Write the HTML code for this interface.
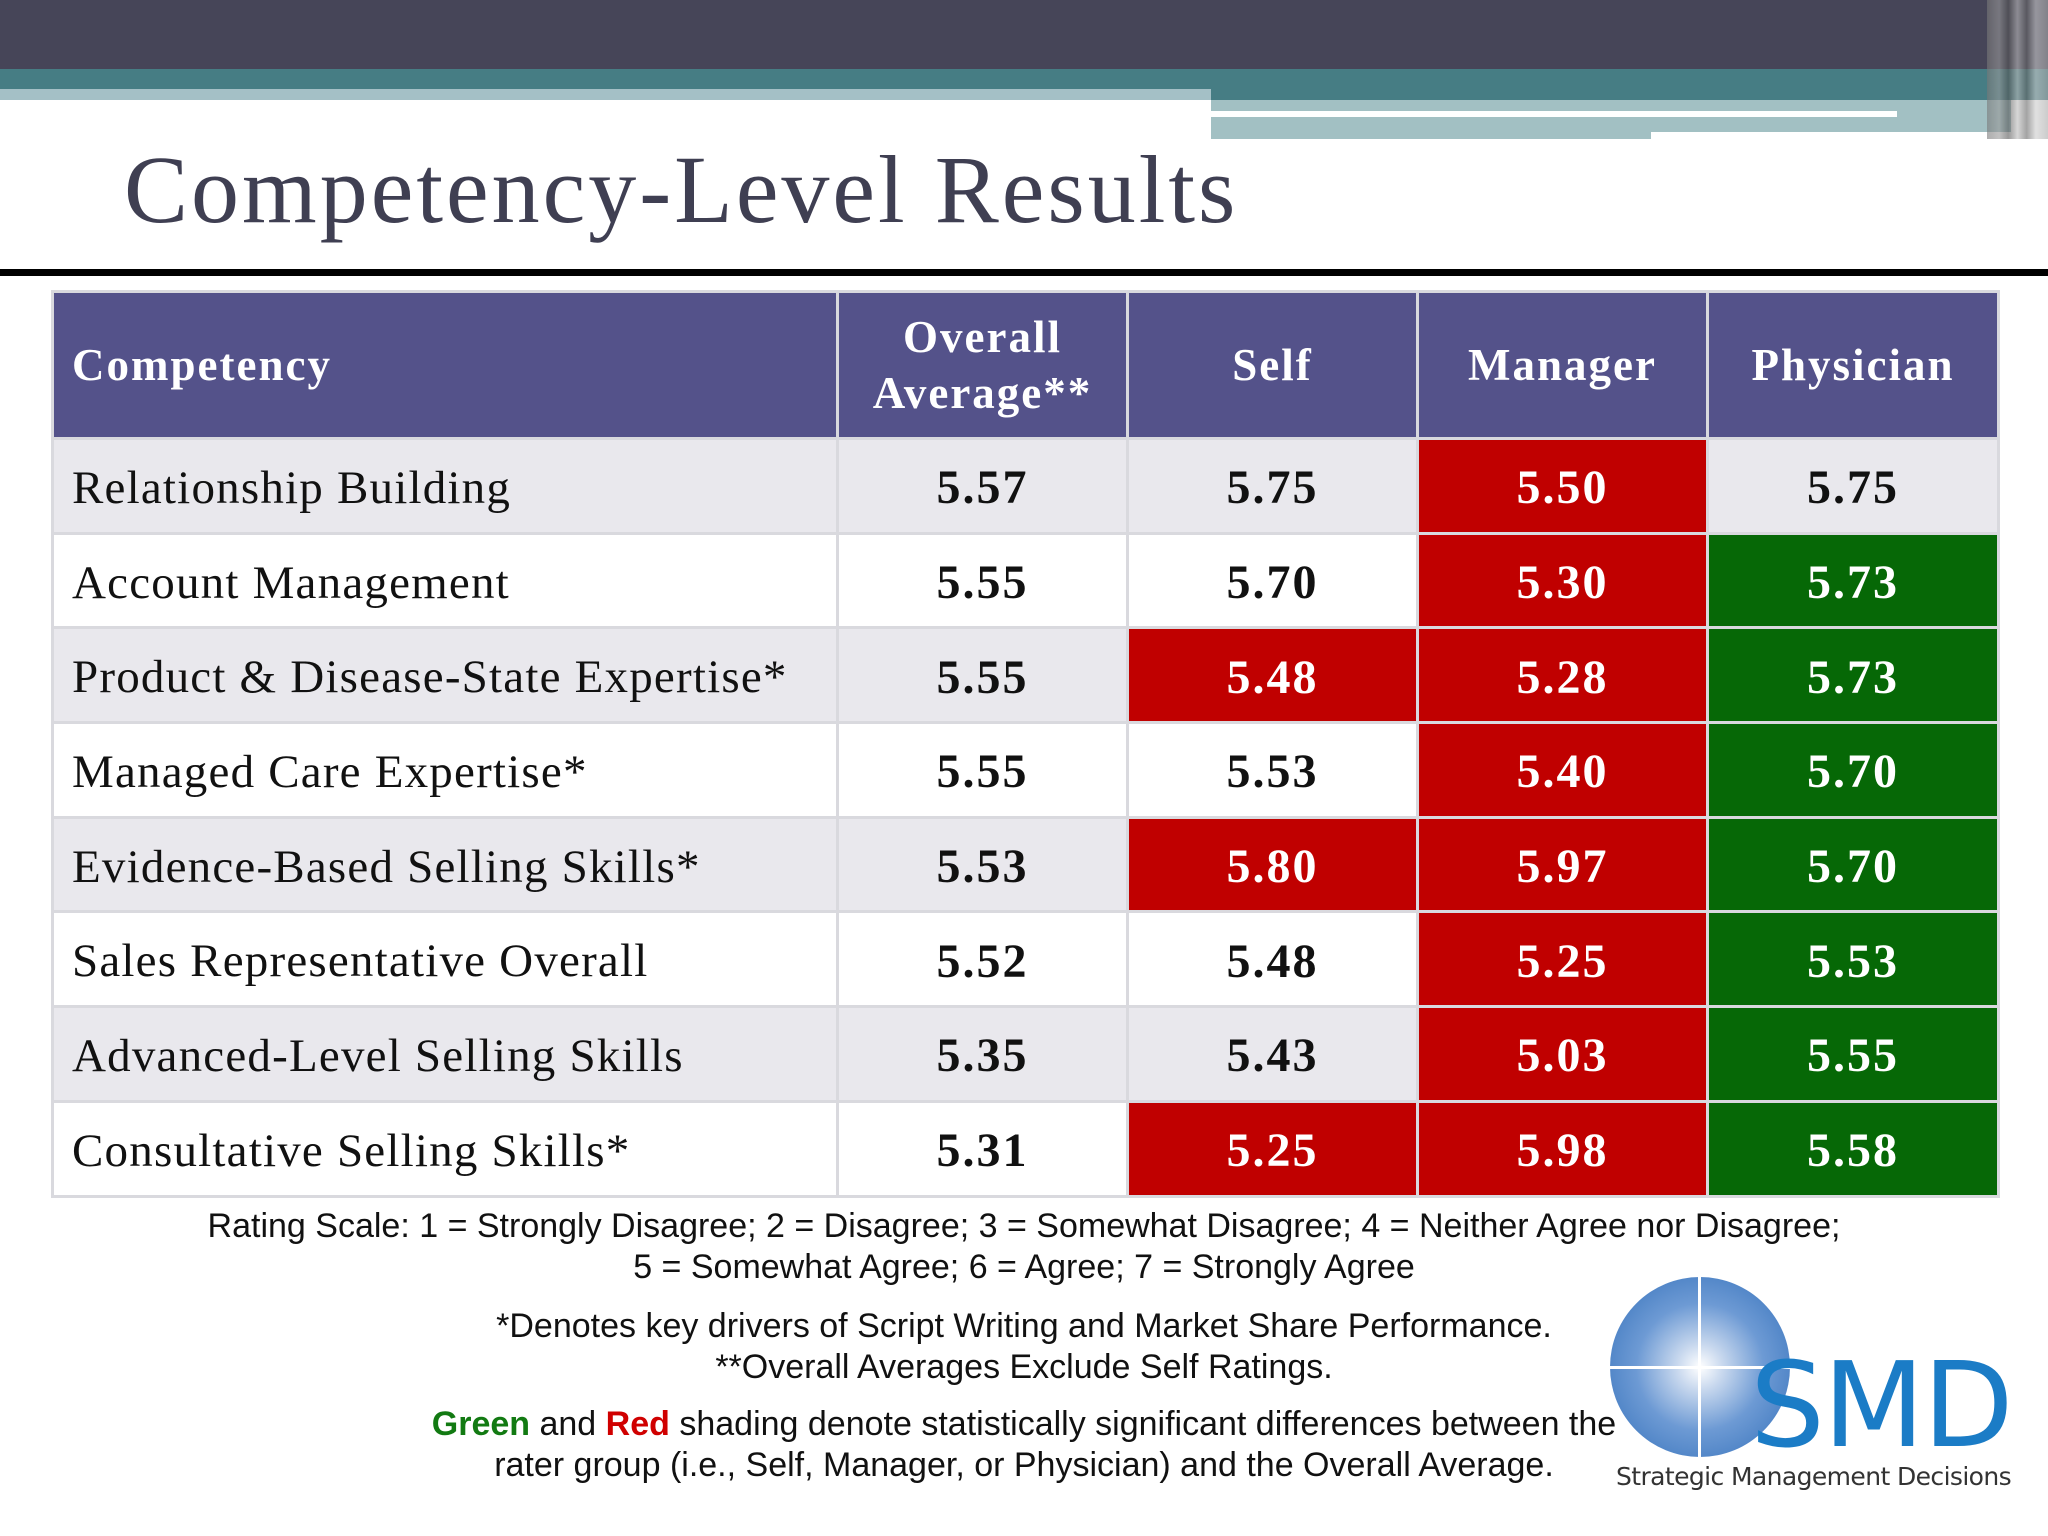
<!DOCTYPE html>
<html><head><meta charset="utf-8"><style>
*{margin:0;padding:0;box-sizing:border-box}
body{width:2048px;height:1536px;background:#fff;position:relative;overflow:hidden;font-family:"Liberation Serif",serif}
.a{position:absolute}
table{position:absolute;left:51px;top:290px;width:1946px;border-collapse:collapse;table-layout:fixed}
td,th{border:3px solid #d9d9de;height:94.7px;font-size:44px;color:#111}
th{background:#54528a;color:#fff;font-weight:bold;font-size:45px;letter-spacing:2px;line-height:56px;height:147px;text-align:center}
th:first-child{text-align:left;padding-left:18px}
td:first-child{padding-left:18px;text-align:left}
td{text-align:center;font-weight:bold;font-size:48px;letter-spacing:2px;padding-top:4px}
td:first-child{font-weight:normal;font-size:47px;letter-spacing:1.2px}
tr:nth-child(even) td{background:#e9e8ed}
tr:nth-child(odd) td{background:#fff}
td.r{background:#c00000!important;color:#fff}
td.g{background:#066806!important;color:#fff}
.f{position:absolute;left:0;width:2048px;text-align:center;font-family:"Liberation Sans",sans-serif;font-size:34px;color:#111;line-height:41px}
</style></head><body>
<div class="a" style="left:0;top:0;width:2048px;height:69px;background:#464558"></div>
<div class="a" style="left:0;top:69px;width:2048px;height:31px;background:#467d84"></div>
<div class="a" style="left:0;top:89px;width:1211px;height:11px;background:#a4c0c6"></div>
<div class="a" style="left:1211px;top:100px;width:800px;height:39px;background:#a2c0c3"></div>
<div class="a" style="left:1211px;top:111px;width:686px;height:6px;background:#fff"></div>
<div class="a" style="left:1651px;top:132px;width:360px;height:10px;background:#fff"></div>
<div class="a" style="left:1987px;top:0;width:61px;height:139px;background:linear-gradient(90deg,#777 0,#999 20%,#555 35%,#bbb 50%,#666 65%,#ccc 80%,#aaa 100%);opacity:.6"></div>
<div class="a" style="left:124px;top:135px;font-size:96px;letter-spacing:3px;color:#3f3f52;line-height:110px">Competency-Level Results</div>
<div class="a" style="left:0;top:269px;width:2048px;height:7px;background:#000"></div>
<table>
<colgroup><col style="width:785px"><col style="width:290px"><col style="width:290px"><col style="width:290px"><col style="width:291px"></colgroup>
<tr><th>Competency</th><th>Overall<br>Average**</th><th>Self</th><th>Manager</th><th>Physician</th></tr>
<tr><td>Relationship Building</td><td>5.57</td><td>5.75</td><td class="r">5.50</td><td>5.75</td></tr>
<tr><td>Account Management</td><td>5.55</td><td>5.70</td><td class="r">5.30</td><td class="g">5.73</td></tr>
<tr><td>Product &amp; Disease-State Expertise*</td><td>5.55</td><td class="r">5.48</td><td class="r">5.28</td><td class="g">5.73</td></tr>
<tr><td>Managed Care Expertise*</td><td>5.55</td><td>5.53</td><td class="r">5.40</td><td class="g">5.70</td></tr>
<tr><td>Evidence-Based Selling Skills*</td><td>5.53</td><td class="r">5.80</td><td class="r">5.97</td><td class="g">5.70</td></tr>
<tr><td>Sales Representative Overall</td><td>5.52</td><td>5.48</td><td class="r">5.25</td><td class="g">5.53</td></tr>
<tr><td>Advanced-Level Selling Skills</td><td>5.35</td><td>5.43</td><td class="r">5.03</td><td class="g">5.55</td></tr>
<tr><td>Consultative Selling Skills*</td><td>5.31</td><td class="r">5.25</td><td class="r">5.98</td><td class="g">5.58</td></tr>
</table>
<div class="f" style="top:1206px">Rating Scale: 1 = Strongly Disagree; 2 = Disagree; 3 = Somewhat Disagree; 4 = Neither Agree nor Disagree;<br>5 = Somewhat Agree; 6 = Agree; 7 = Strongly Agree</div>
<div class="f" style="top:1306px">*Denotes key drivers of Script Writing and Market Share Performance.<br>**Overall Averages Exclude Self Ratings.</div>
<div class="a" style="left:1610px;top:1277px;width:180px;height:180px;border-radius:50%;background:radial-gradient(circle at 50% 50%,#fff 0,#c8d8ee 18%,#6d9ad4 50%,#2f6db8 100%)"></div>
<div class="a" style="left:1698px;top:1277px;width:3px;height:180px;background:#fff"></div>
<div class="a" style="left:1610px;top:1366px;width:180px;height:3px;background:#fff"></div>
<div class="a" style="left:1750px;top:1345px;font-family:'DejaVu Sans',sans-serif;font-size:118px;line-height:120px;color:#1b7cc6;letter-spacing:-2px">SMD</div>
<div class="a" style="left:1616px;top:1462px;font-family:'DejaVu Sans',sans-serif;font-size:25px;color:#333;letter-spacing:-0.6px">Strategic Management Decisions</div>
<div class="f" style="top:1404px"><b style="color:#127a12">Green</b> and <b style="color:#d00000">Red</b> shading denote statistically significant differences between the<br>rater group (i.e., Self, Manager, or Physician) and the Overall Average.</div>
</body></html>
